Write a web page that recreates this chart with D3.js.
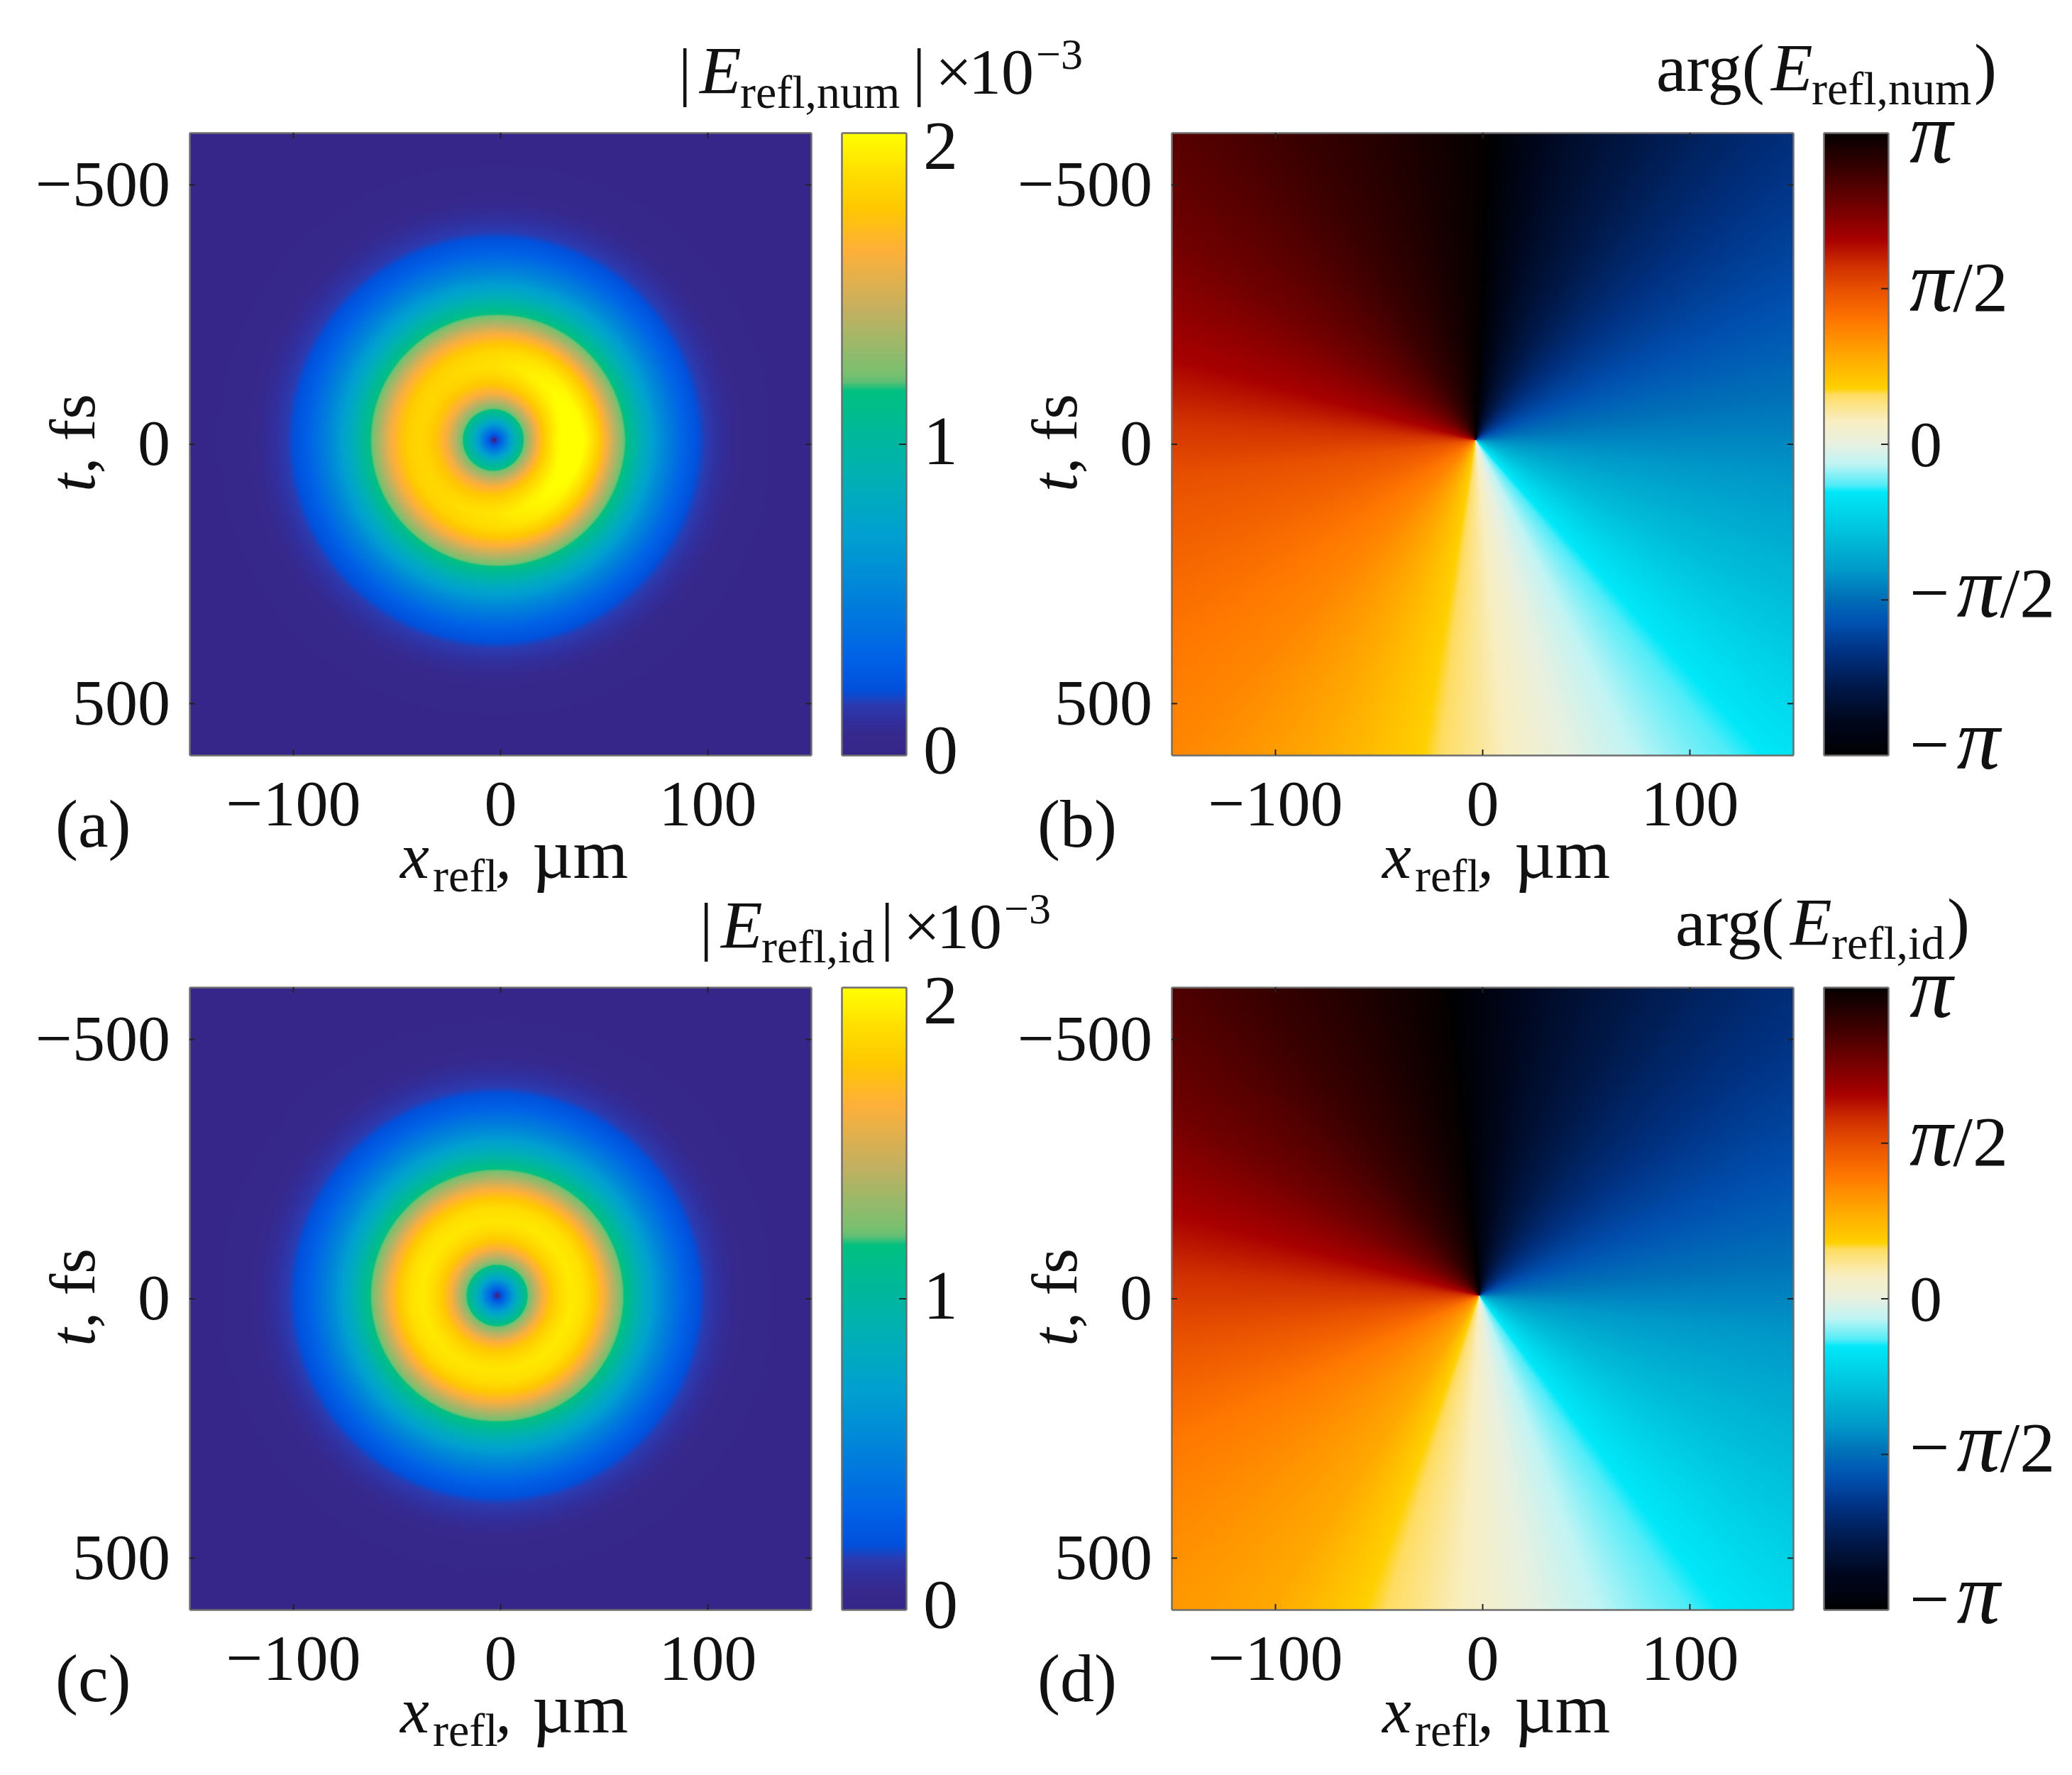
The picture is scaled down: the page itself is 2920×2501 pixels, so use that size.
<!DOCTYPE html>
<html>
<head>
<meta charset="utf-8">
<title>Reflected field amplitude and phase</title>
<script src="https://cdn.jsdelivr.net/npm/d3@7"></script>
<style>
    html, body { margin: 0; padding: 0; background: #fff; }
    svg { display: block; }
    text { font-family: "Liberation Serif", serif; fill: #111; }
    .frame .domain { stroke: #6e6e6e; stroke-width: 2.5px; fill: none; }
    .frame .tick line { stroke: #222; stroke-width: 2px; }
    .tick text { font-size: 92px; font-family: "Liberation Serif", serif; fill: #111; }
</style>
</head>
<body>
<div id="chart"></div>
<script>
// Axis readings
const xDomain = [-150, 150];
const tDomain = [-600, 600];
const xTicks = [-100, 0, 100];
const tTicks = [-500, 0, 500];

// Amplitude colour bar, read bottom to top (units of 1e-3)
const ampStops = [0, 0.06, 0.12, 0.16, 0.19, 0.21, 0.315, 0.55, 0.708, 0.892, 1.17, 1.2, 1.225, 1.43, 1.626, 1.757, 1.88, 2];
const ampColors = ["#36268a", "#36288c", "#3030a0", "#2c3aae", "#1048cc", "#0050dc", "#0062e6", "#0088d8", "#00a0d0", "#00b0b4", "#00c080", "#60bf74", "#78c070", "#c4b060", "#ffb038", "#ffc800", "#ffe000", "#ffff00"];
const ampBarTicks = [1];
const ampBarLabels = [2, 1, 0];

// Phase colour bar, read bottom to top (units of pi)
const phaseStops = [-1, -0.88, -0.784, -0.673, -0.576, -0.493, -0.41, -0.3, -0.154, -0.133, -0.064, 0, 0.075, 0.158, 0.179, 0.283, 0.393, 0.497, 0.573, 0.656, 0.767, 0.878, 1];
const phaseColors = ["#000002", "#000820", "#001848", "#003080", "#0050b0", "#0070b8", "#0098c8", "#00bcd8", "#00e8f8", "#50ecf8", "#c0f4f4", "#e8f0e0", "#f8eec0", "#ffdc60", "#ffd000", "#ffa800", "#ff7800", "#e85000", "#d03000", "#a80000", "#700000", "#3a0000", "#040000"];
const phaseBarTicks = [-0.5, 0, 0.5];
const phaseBarLabels = ["π", "π/2", "0", "−π/2", "−π"];
const phaseBarValues = [1, 0.5, 0, -0.5, -1];

// Ring profile read along a radius of panel (c): radius in um, amplitude
const ringRadius = [0, 1.4, 5, 10, 14.4, 18, 22.6, 27, 32, 36, 42, 47, 51, 56, 61.3, 70, 80, 90, 100, 110, 120, 135, 150, 400];
const ringAmp = [0, 0.16, 0.46, 0.87, 1.17, 1.38, 1.63, 1.78, 1.88, 1.92, 1.88, 1.76, 1.63, 1.4, 1.17, 0.85, 0.55, 0.32, 0.17, 0.09, 0.04, 0.01, 0, 0];

// Strength of the ring by direction (0 = right, 90 = up)
const ringAngle = [0, 45, 90, 135, 180, 225, 270, 315, 360];
const ringGainNum = [1.08, 1.03, 0.98, 0.955, 0.95, 0.96, 0.99, 1.04, 1.08];
const ringGainId = [1, 1, 0.99, 0.995, 1, 0.995, 0.99, 1, 1];

// Phase by direction from the vortex (0 = down, + = to the right), degrees, units of pi
const dirNum = [-182.4, -149, -124, -105, -94, -83, -55, -44, -27, -9.5, 16, 42.5, 62, 83, 98, 113, 132, 151, 166.7, 177.6];
const phaseNum = [1, 0.878, 0.767, 0.656, 0.573, 0.497, 0.393, 0.36, 0.283, 0.179, 0, -0.154, -0.29, -0.41, -0.493, -0.576, -0.673, -0.784, -0.88, -1];
const dirId = [-174.4, -143.4, -121, -105, -94, -82.4, -64.3, -44.6, -33.8, -20, 9, 37.5, 59.5, 82.5, 96.3, 111.3, 130.7, 153, 171, 185.6];
const phaseId = [1, 0.878, 0.767, 0.656, 0.573, 0.497, 0.393, 0.32, 0.283, 0.179, 0, -0.154, -0.29, -0.41, -0.493, -0.576, -0.673, -0.784, -0.88, -1];

// Vortex positions: [x um, t fs]
const vortexA = [-2.9, -7.5];
const vortexB = [-3.2, -7.5];
const vortexC = [-1.5, -5.5];
const vortexD = [-1.5, -5.5];

const width = 2920;
const height = 2501;
const plotW = 876;
const plotH = 877;
const barW = 91;
const panelStep = 1384;
const rowStep = 1204;
const originX = 267;
const originY = 187;

const svg = d3.select("#chart").append("svg")
    .attr("width", width)
    .attr("height", height)
    .attr("viewBox", "0 0 " + width + " " + height);

const xScale = d3.scaleLinear().domain(xDomain).range([0, plotW]);
const tScale = d3.scaleLinear().domain(tDomain).range([0, plotH]);

const ringScale = d3.scaleLinear().domain(ringRadius).range(ringAmp);
const ampColor = d3.scaleLinear().domain(ampStops).range(ampColors).clamp(true);
const phaseColor = d3.scaleLinear().domain(phaseStops).range(phaseColors).clamp(true);

/**
 * Builds a lookup table of a colour scale, looping over every pixel with strings is too slow
 */
function colorTable(scale, lo, hi) {
    const n = 4096;
    const pos = d3.scaleLinear().domain([0, n - 1]).range([lo, hi]);
    const table = d3.range(n).map(i => d3.rgb(scale(pos(i))));
    const index = d3.scaleLinear().domain([lo, hi]).range([0, n - 1]).clamp(true);
    return v => table[Math.round(index(v))];
}

/**
 * Paints one image from a value function through the x and t scales
 */
function heatImage(g, valueAt, lookup) {
    const canvas = document.createElement("canvas");
    canvas.width = plotW;
    canvas.height = plotH;
    const ctx = canvas.getContext("2d");
    const img = ctx.createImageData(plotW, plotH);
    for (let j = 0; j < plotH; ++j) {
        const t = tScale.invert(j + 0.5);
        for (let i = 0; i < plotW; ++i) {
            const c = lookup(valueAt(xScale.invert(i + 0.5), t));
            const k = (j * plotW + i) * 4;
            img.data[k] = c.r;
            img.data[k + 1] = c.g;
            img.data[k + 2] = c.b;
            img.data[k + 3] = 255;
        }
    }
    ctx.putImageData(img, 0, 0);
    g.append("image")
        .attr("width", plotW)
        .attr("height", plotH)
        .attr("href", canvas.toDataURL());
}

function amplitudeAt(vortex, gains) {
    const gainScale = d3.scaleLinear().domain(ringAngle).range(gains);
    return function(x, t) {
        const dx = x - vortex[0];
        const dt = (t - vortex[1]) / 4;   // 4 fs of t take the same length as 1 um of x
        const r = Math.hypot(dx, dt);
        let a = Math.atan2(-dt, dx) * 180 / Math.PI;
        if (a < 0) a += 360;
        const w = Math.min(r / 36, 1);
        return ringScale(r) * (1 + (gainScale(a) - 1) * w);
    };
}

function phaseAt(vortex, dirs, phases) {
    const dirScale = d3.scaleLinear().domain(dirs).range(phases);
    const first = dirs[0];
    const last = dirs[dirs.length - 1];
    return function(x, t) {
        const dx = x - vortex[0];
        const dt = (t - vortex[1]) / 4;
        let a = Math.atan2(dx, dt) * 180 / Math.PI;
        if (a > last) a -= 360;
        if (a < first) a += 360;
        return dirScale(a);
    };
}

/**
 * Draws the frame with inward ticks on all four sides, labels on bottom and left
 */
function drawAxes(g) {
    const fmt = d => String(d).replace("-", "\u2212");
    g.append("g").attr("class", "frame")
        .attr("transform", "translate(0," + plotH + ")")
        .call(d3.axisBottom(xScale).tickValues(xTicks).tickSizeInner(-8).tickSizeOuter(0).tickPadding(34).tickFormat(fmt));
    g.append("g").attr("class", "frame")
        .call(d3.axisLeft(tScale).tickValues(tTicks).tickSizeInner(-8).tickSizeOuter(0).tickPadding(27).tickFormat(fmt));
    g.append("g").attr("class", "frame")
        .call(d3.axisTop(xScale).tickValues(xTicks).tickSizeInner(-8).tickSizeOuter(0).tickFormat(""));
    g.append("g").attr("class", "frame")
        .attr("transform", "translate(" + plotW + ",0)")
        .call(d3.axisRight(tScale).tickValues(tTicks).tickSizeInner(-8).tickSizeOuter(0).tickFormat(""));
    g.selectAll(".frame text").attr("font-family", "Liberation Serif");
}

/**
 * Draws a colour bar from rows of its own scale, plus its frame and inside ticks
 */
function drawBar(g, domain, color, ticks) {
    const barScale = d3.scaleLinear().domain(domain).range([plotH, 0]);
    g.selectAll("rect.row")
        .data(d3.range(plotH))
        .join("rect")
        .attr("class", "row")
        .attr("x", 0)
        .attr("y", d => d)
        .attr("width", barW)
        .attr("height", 1.5)
        .attr("fill", d => color(barScale.invert(d + 0.5)));
    g.append("g").attr("class", "frame")
        .attr("transform", "translate(" + barW + ",0)")
        .call(d3.axisRight(barScale).tickValues(ticks).tickSizeInner(-10).tickSizeOuter(0).tickFormat(""));
    g.append("g").attr("class", "frame")
        .call(d3.axisLeft(barScale).tickValues([]).tickSizeOuter(0));
    g.append("g").attr("class", "frame")
        .call(d3.axisTop(d3.scaleLinear().range([0, barW])).tickValues([]).tickSizeOuter(0));
    g.append("g").attr("class", "frame")
        .attr("transform", "translate(0," + plotH + ")")
        .call(d3.axisBottom(d3.scaleLinear().range([0, barW])).tickValues([]).tickSizeOuter(0));
    return barScale;
}

// Pieces of a label with their own position and size
function rich(parent, parts) {
    const text = parent.append("text");
    parts.forEach(function(p) {
        text.append("tspan")
            .attr("x", p[1])
            .attr("y", p[2])
            .attr("font-size", p[3])
            .attr("font-style", p[4] ? "italic" : "normal")
            .text(p[0]);
    });
    return text;
}

function drawPiLabel(g, label, x, y) {
    const text = g.append("text").attr("x", x).attr("y", y).attr("font-size", 96);
    label.split(/(π)/).filter(s => s.length).forEach(function(s, i) {
        const isPi = s === "π";
        text.append("tspan")
            .attr("dx", isPi && i > 0 ? 10 : 0)
            .attr("font-size", isPi ? 122 : (s === "0" ? 92 : 100))
            .attr("font-style", isPi ? "italic" : "normal")
            .text(s);
    });
}

// Labels shared by every panel
function drawLabels(g, tag) {
    rich(g, [["x", 564, 1237, 92, true], ["refl", 610, 1256, 66, false], [",", 698, 1237, 92, true], ["\u00b5m", 750, 1237, 100, false]]);
    g.append("text").attr("x", 78).attr("y", 1193).attr("font-size", 96).text(tag);
    const yl = g.append("text")
        .attr("transform", "translate(133,624) rotate(-90)")
        .attr("text-anchor", "middle")
        .attr("font-size", 92);
    yl.append("tspan").attr("font-style", "italic").text("t");
    yl.append("tspan").text(", fs");
}

// Panels (a) and (c): amplitude
const panelA = svg.append("g");
const panelC = svg.append("g").attr("transform", "translate(0," + rowStep + ")");
// Panels (b) and (d): phase
const panelB = svg.append("g").attr("transform", "translate(" + panelStep + ",0)");
const panelD = svg.append("g").attr("transform", "translate(" + panelStep + "," + rowStep + ")");

const ampLookup = colorTable(ampColor, 0, 2);
const phaseLookup = colorTable(phaseColor, -1, 1);

[
    {g: panelA, value: amplitudeAt(vortexA, ringGainNum), lookup: ampLookup, tag: "(a)"},
    {g: panelC, value: amplitudeAt(vortexC, ringGainId), lookup: ampLookup, tag: "(c)"},
    {g: panelB, value: phaseAt(vortexB, dirNum, phaseNum), lookup: phaseLookup, tag: "(b)"},
    {g: panelD, value: phaseAt(vortexD, dirId, phaseId), lookup: phaseLookup, tag: "(d)"}
].forEach(function(p) {
    const plot = p.g.append("g").attr("transform", "translate(" + originX + "," + originY + ")");
    heatImage(plot, p.value, p.lookup);
    drawAxes(plot);
    drawLabels(p.g, p.tag);
});

// Colour bars and their labels
[panelA, panelC].forEach(function(g) {
    const bar = g.append("g").attr("transform", "translate(1186," + originY + ")");
    const scale = drawBar(bar, [0, 2], ampColor, ampBarTicks);
    const offsets = [51, 28, 25];
    ampBarLabels.forEach(function(v, i) {
        bar.append("text")
            .attr("x", barW + 24)
            .attr("y", scale(v) + offsets[i])
            .attr("font-size", 98)
            .text(v);
    });
});

[panelB, panelD].forEach(function(g) {
    const bar = g.append("g").attr("transform", "translate(1186," + originY + ")");
    const scale = drawBar(bar, [-1, 1], phaseColor, phaseBarTicks);
    const offsets = [42, 32, 31, 24, 19];
    phaseBarLabels.forEach(function(label, i) {
        drawPiLabel(bar, label, barW + 30, scale(phaseBarValues[i]) + offsets[i]);
    });
});

// Titles
rich(panelA, [["|", 956, 132, 92, false], ["E", 986, 132, 96, true], ["refl,num", 1043, 152, 66, false], ["|", 1286, 132, 92, false],
    ["\u00d7", 1318, 132, 92, false], ["10", 1365, 132, 92, false], ["\u22123", 1460, 97, 62, false]]);
rich(panelC, [["|", 986, 132, 92, false], ["E", 1016, 132, 96, true], ["refl,id", 1073, 152, 66, false], ["|", 1241, 132, 92, false],
    ["\u00d7", 1273, 132, 92, false], ["10", 1320, 132, 92, false], ["\u22123", 1415, 97, 62, false]]);
rich(panelB, [["arg(", 950, 128, 96, false], ["E", 1112, 128, 96, true], ["refl,num", 1169, 147, 66, false], [")", 1398, 128, 96, false]]);
rich(panelD, [["arg(", 977, 128, 96, false], ["E", 1139, 128, 96, true], ["refl,id", 1197, 147, 66, false], [")", 1360, 128, 96, false]]);
</script>
</body>
</html>
